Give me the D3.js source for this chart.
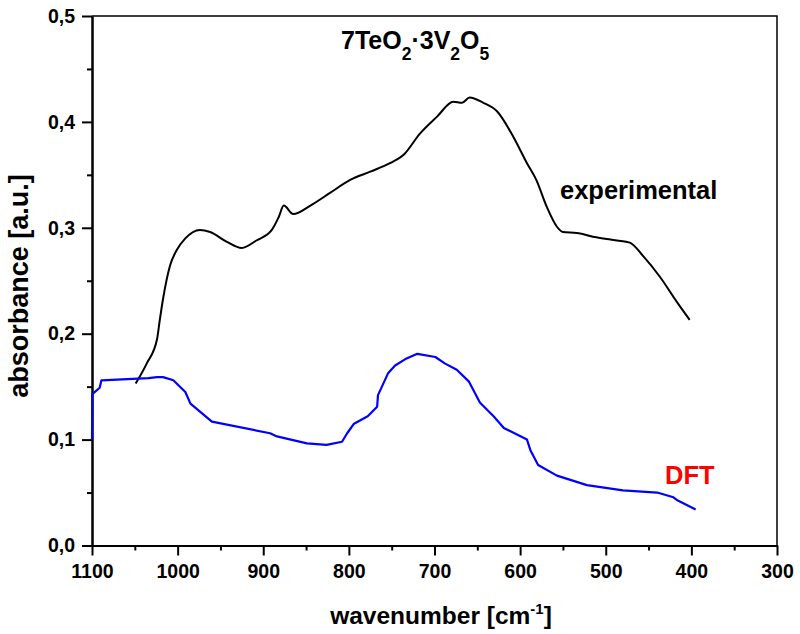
<!DOCTYPE html>
<html>
<head>
<meta charset="utf-8">
<script src="https://cdn.jsdelivr.net/npm/d3@7"></script>
<style>
  body { margin: 0; background: #fff; }
  svg { display: block; font-family: "Liberation Sans", Arial, sans-serif; font-weight: bold; }
</style>
</head>
<body>
<div id="chart"></div>
<script>
// experimental spectrum
const expWavenumber = [1049, 1036, 1024, 1021, 1017, 1009, 1001, 991, 974, 962, 943, 925, 908, 890, 882, 876, 865, 845, 822, 799, 775, 752, 736, 717, 697, 678, 668, 659, 643, 627, 608, 592, 581, 569, 557, 550, 534, 511, 487, 472, 456, 437, 417, 402];
const expAbsorbance = [0.153, 0.172, 0.195, 0.212, 0.233, 0.264, 0.279, 0.290, 0.298, 0.296, 0.287, 0.281, 0.288, 0.298, 0.310, 0.321, 0.313, 0.321, 0.333, 0.345, 0.353, 0.361, 0.369, 0.389, 0.405, 0.419, 0.418, 0.423, 0.418, 0.410, 0.386, 0.361, 0.345, 0.320, 0.301, 0.296, 0.295, 0.291, 0.288, 0.286, 0.273, 0.254, 0.230, 0.213];

// DFT spectrum
const dftWavenumber = [1100, 1099.6, 1091, 1089, 1034, 1024, 1017, 1005, 991, 985, 960, 892, 884, 849, 826, 808, 802, 794, 778, 767, 766, 754, 746, 734, 720, 699, 688, 674, 660, 647, 631, 619, 592, 588, 579, 557, 522, 480, 440, 421, 417, 395];
const dftAbsorbance = [0.100, 0.143, 0.149, 0.156, 0.158, 0.159, 0.159, 0.156, 0.145, 0.134, 0.117, 0.106, 0.103, 0.0965, 0.095, 0.098, 0.106, 0.115, 0.122, 0.131, 0.142, 0.163, 0.170, 0.176, 0.181, 0.178, 0.172, 0.166, 0.155, 0.135, 0.122, 0.111, 0.100, 0.090, 0.076, 0.066, 0.057, 0.052, 0.050, 0.0455, 0.043, 0.034];

const xTicks = [1100, 1000, 900, 800, 700, 600, 500, 400, 300];
const xMinorTicks = [1050, 950, 850, 750, 650, 550, 450, 350];
const yTicks = [0, 0.1, 0.2, 0.3, 0.4, 0.5];
const yMinorTicks = [0.05, 0.15, 0.25, 0.35, 0.45];

function drawChart() {
    const width = 800;
    const height = 634;
    const left = 92, right = 777, top = 16, bottom = 545.5;

    const svg = d3.select("#chart").append("svg")
        .attr("width", width)
        .attr("height", height);

    //----------------------------SCALES----------------------------//
    const xScale = d3.scaleLinear().domain([1100, 300]).range([left, right]);
    const yScale = d3.scaleLinear().domain([0, 0.5]).range([bottom, top]);

    //-----------------------------FRAME----------------------------//
    svg.append("path")
        .attr("d", "M" + left + "," + top + "H" + right + "V" + bottom)
        .attr("fill", "none")
        .attr("stroke", "#000")
        .attr("stroke-width", 1.5);

    //-----------------------------AXES-----------------------------//
    const commaFmt = function(d) { return d3.format(".1f")(d).replace(".", ","); };

    const xaxis = d3.axisBottom(xScale).tickValues(xTicks).tickSize(10).tickSizeOuter(0).tickPadding(9).tickFormat(d3.format("d"));
    const xminor = d3.axisBottom(xScale).tickValues(xMinorTicks).tickSize(5).tickSizeOuter(0).tickFormat("");
    const yaxis = d3.axisLeft(yScale).tickValues(yTicks).tickSize(10).tickSizeOuter(0).tickPadding(7).tickFormat(commaFmt);
    const yminor = d3.axisLeft(yScale).tickValues(yMinorTicks).tickSize(5).tickSizeOuter(0).tickFormat("");

    [xminor, xaxis].forEach(function(a) {
        svg.append("g").attr("transform", "translate(0," + bottom + ")").call(a);
    });
    [yminor, yaxis].forEach(function(a) {
        svg.append("g").attr("transform", "translate(" + left + ",0)").call(a);
    });

    svg.selectAll(".domain, .tick line")
        .attr("stroke", "#000")
        .attr("stroke-width", 2);
    svg.selectAll(".tick text")
        .attr("fill", "#000")
        .style("font-family", "'Liberation Sans', Arial, sans-serif")
        .style("font-weight", "bold")
        .style("font-size", "19.5px");

    //----------------------------LINES-----------------------------//
    const expLine = d3.line()
        .x(function(d, i) { return xScale(expWavenumber[i]); })
        .y(function(d) { return yScale(d); })
        .curve(d3.curveMonotoneX);

    const dftLine = d3.line()
        .x(function(d, i) { return xScale(dftWavenumber[i]); })
        .y(function(d) { return yScale(d); });

    svg.append("path")
        .attr("d", expLine(expAbsorbance))
        .attr("fill", "none")
        .attr("stroke", "#000")
        .attr("stroke-width", 2);

    svg.append("path")
        .attr("d", dftLine(dftAbsorbance))
        .attr("fill", "none")
        .attr("stroke", "#0000ff")
        .attr("stroke-width", 2.2)
        .attr("stroke-linejoin", "round");

    //----------------------------LABELS----------------------------//
    const title = svg.append("text")
        .attr("x", 341)
        .attr("y", 49)
        .style("font-size", "25px");
    title.append("tspan").text("7TeO");
    title.append("tspan").attr("dy", 11).style("font-size", "17.5px").text("2");
    title.append("tspan").attr("dy", -11).text("\u00b73V");
    title.append("tspan").attr("dy", 11).style("font-size", "17.5px").text("2");
    title.append("tspan").attr("dy", -11).text("O");
    title.append("tspan").attr("dy", 11).style("font-size", "17.5px").text("5");

    svg.append("text")
        .attr("x", 560)
        .attr("y", 199)
        .style("font-size", "25.5px")
        .text("experimental");

    svg.append("text")
        .attr("x", 665)
        .attr("y", 484)
        .attr("fill", "#ff0000")
        .style("font-size", "25.5px")
        .text("DFT");

    const xl = svg.append("text")
        .attr("x", 441)
        .attr("y", 624)
        .attr("text-anchor", "middle")
        .style("font-size", "24.5px");
    xl.append("tspan").text("wavenumber [cm");
    xl.append("tspan").attr("dy", -10).style("font-size", "15px").text("-1");
    xl.append("tspan").attr("dy", 10).text("]");

    svg.append("text")
        .attr("transform", "translate(28,286) rotate(-90)")
        .attr("text-anchor", "middle")
        .style("font-size", "27px")
        .text("absorbance [a.u.]");
}

drawChart();
</script>
</body>
</html>
